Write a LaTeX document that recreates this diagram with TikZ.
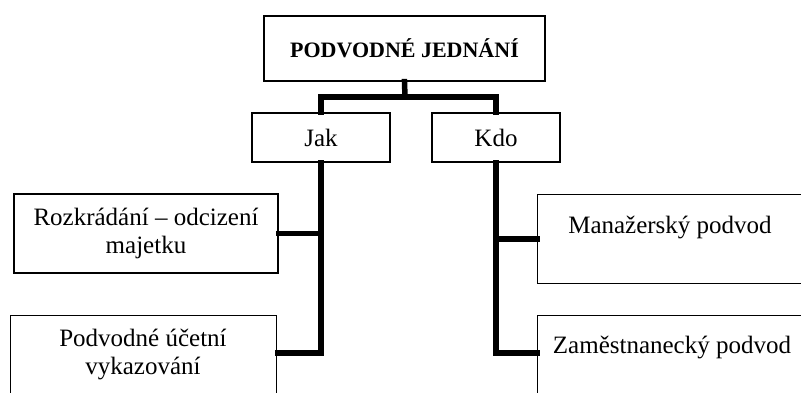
\documentclass[tikz,border=0pt]{standalone}
\usepackage{fontspec}
\setmainfont{Liberation Serif}
\begin{document}
\begin{tikzpicture}[x=1pt,y=-1pt,
  box/.style={draw=black,line width=1.3pt,fill=white,rectangle,inner sep=0pt,align=center,font=\fontsize{25}{28}\selectfont},
  lbl/.style={inner sep=0pt,align=center,font=\fontsize{25}{28}\selectfont},
  conn/.style={line width=5.5pt,draw=black,line cap=rect,line join=miter}]
\useasboundingbox (0,0) rectangle (801,392);
\fill[white] (0,0) rectangle (801,392);
% nodes
\node[box,minimum width=281pt,minimum height=65pt,font=\bfseries\fontsize{22}{27}\selectfont] (top) at (404.5,48.5) {PODVODNÉ JEDNÁNÍ};
\node[box,minimum width=138pt,minimum height=49pt] (jak) at (321,137.5) {Jak};
\node[box,minimum width=128pt,minimum height=49pt] (kdo) at (496,137.5) {Kdo};
\node[box,minimum width=264pt,minimum height=79pt] (rk) at (146,233.5) {Rozkrádání – odcizení\\majetku};
\node[box,minimum width=266pt,minimum height=100pt,anchor=north west] (pu) at (10,315) {};
\node[lbl] (putext) at (143,354) {Podvodné účetní\\vykazování};
\node[box,minimum width=290pt,minimum height=89pt,anchor=north west] (mp) at (537,194) {};
\node[lbl] (mptext) at (670,227) {Manažerský podvod};
\node[box,minimum width=290pt,minimum height=100pt,anchor=north west] (zp) at (537,315) {};
\node[lbl] (zptext) at (672,347) {Zaměstnanecký podvod};
% connectors
\coordinate (hb) at (405,97);
\coordinate (lo) at (0,353);
\draw[conn] (top.south) -- (hb);
\draw[conn] (jak.north) |- (hb) -| (kdo.north);
\draw[conn] (jak.south) -- (jak.south |- lo) -- (pu.east |- lo);
\draw[conn] (rk.east) -- (rk.east -| jak.south);
\draw[conn] (kdo.south) -- (kdo.south |- lo) -- (zp.west |- lo);
\draw[conn] (mp.west) -- (mp.west -| kdo.south);
\end{tikzpicture}
\end{document}
